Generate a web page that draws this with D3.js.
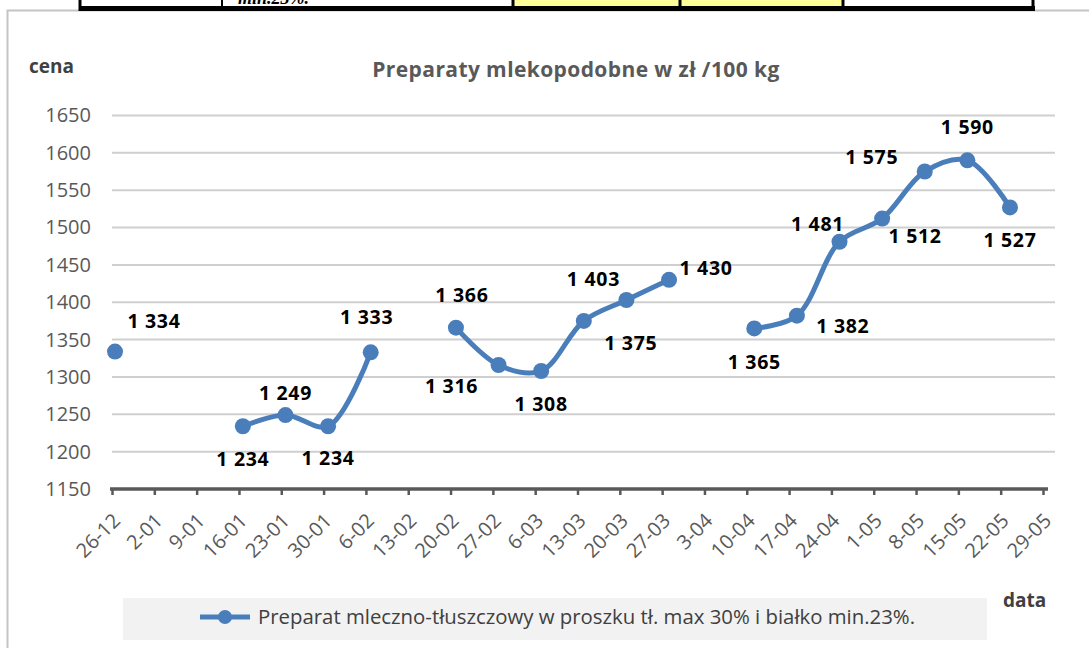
<!DOCTYPE html>
<html>
<head>
<meta charset="utf-8">
<script src="https://cdn.jsdelivr.net/npm/d3@7"></script>
<style>
  body { margin: 0; background: #fff; }
  svg { display: block; font-family: 'Open Sans', sans-serif; }
</style>
</head>
<body>
<svg id="chart"></svg>
<script>
// weekly dates on the x axis
const dates = ['26-12', '2-01', '9-01', '16-01', '23-01', '30-01', '6-02', '13-02', '20-02', '27-02',
    '6-03', '13-03', '20-03', '27-03', '3-04', '10-04', '17-04', '24-04', '1-05', '8-05', '15-05', '22-05', '29-05'];

// price zl / 100 kg, null = no quotation that week
const prices = [1334, null, null, 1234, 1249, 1234, 1333, null, 1366, 1316,
    1308, 1375, 1403, 1430, null, 1365, 1382, 1481, 1512, 1575, 1590, 1527, null];

const yTicks = [1150, 1200, 1250, 1300, 1350, 1400, 1450, 1500, 1550, 1600, 1650];

const seriesName = 'Preparat mleczno-tłuszczowy w proszku tł. max 30% i białko min.23%.';

draw_chart();

function draw_chart() {
    const W = 1089, H = 648;
    const blue = '#4a7ebb';
    const grey = '#595959';

    const svg = d3.select('#chart')
        .attr('width', W)
        .attr('height', H);

    /* chart frame */
    svg.append('path')
        .attr('d', 'M7.5,' + H + 'V10.5H' + W)
        .attr('fill', 'none')
        .attr('stroke', '#c4c4c4')
        .attr('stroke-width', 2);

    /* bit of the table above the chart */
    const table = svg.append('g');
    table.append('rect').attr('x', 514).attr('y', 0).attr('width', 165).attr('height', 7).attr('fill', '#ffff99');
    table.append('rect').attr('x', 681).attr('y', 0).attr('width', 161).attr('height', 7).attr('fill', '#ffff99');
    table.append('text')
        .attr('x', 238).attr('y', 4)
        .attr('font-family', 'Liberation Serif')
        .attr('font-weight', 'bold')
        .attr('font-style', 'italic')
        .attr('font-size', 18)
        .text('min.23%.');
    table.append('line')
        .attr('x1', 79).attr('x2', 1035).attr('y1', 8.5).attr('y2', 8.5)
        .attr('stroke', '#000').attr('stroke-width', 5);
    [80, 222, 513, 680, 843, 1033].forEach((x, i) => {
        table.append('line')
            .attr('x1', x).attr('x2', x).attr('y1', 0).attr('y2', 11)
            .attr('stroke', '#000').attr('stroke-width', i === 1 ? 2 : 3);
    });

    /* scales: axis ticks and markers are a few px apart, as in the original */
    const xTick = d3.scalePoint().domain(dates).range([112, 1043]);
    const xPt = d3.scalePoint().domain(dates).range([115, 1052.6]);
    const y = d3.scaleLinear().domain([1150, 1650]).range([489, 115.5]);

    /* gridlines */
    svg.append('g')
        .selectAll('line')
        .data(yTicks.slice(1))
        .enter().append('line')
        .attr('x1', 112).attr('x2', 1055)
        .attr('y1', d => y(d)).attr('y2', d => y(d))
        .attr('stroke', '#cfcfcf')
        .attr('stroke-width', 2);

    /* y axis labels */
    const yAxis = svg.append('g')
        .attr('transform', 'translate(91,0)')
        .call(d3.axisLeft(y).tickValues(yTicks).tickSize(0).tickPadding(0).tickFormat(d3.format('d')));
    yAxis.select('.domain').remove();
    yAxis.selectAll('text')
        .attr('fill', grey)
        .attr('font-size', 20)
        .attr('font-family', 'Open Sans');

    /* x axis */
    const xAxis = svg.append('g')
        .attr('transform', 'translate(0,' + y(1150) + ')')
        .call(d3.axisBottom(xTick).tickSize(6).tickSizeOuter(0));
    xAxis.select('.domain').remove();
    xAxis.append('line')
        .attr('x1', xTick.range()[0] - 2).attr('x2', xTick.range()[1] + 5)
        .attr('stroke', grey).attr('stroke-width', 3.5);
    xAxis.selectAll('.tick line').attr('stroke', grey).attr('stroke-width', 2.5);
    xAxis.selectAll('text')
        .attr('fill', grey)
        .attr('font-size', 20)
        .attr('font-family', 'Open Sans')
        .attr('x', 0).attr('y', 0).attr('dy', 0)
        .attr('transform', 'translate(9,33) rotate(-45)')
        .style('text-anchor', 'end');

    /* line with gaps */
    const pts = dates.map((d, i) => ({date: d, value: prices[i]}));
    const line = d3.line()
        .defined(d => d.value !== null)
        .x(d => xPt(d.date))
        .y(d => y(d.value))
        .curve(d3.curveCatmullRom.alpha(0.5));

    svg.append('path')
        .datum(pts)
        .attr('fill', 'none')
        .attr('stroke', blue)
        .attr('stroke-width', 5)
        .attr('stroke-linejoin', 'round')
        .attr('d', line);

    const valid = pts.filter(d => d.value !== null);

    svg.selectAll('.dot')
        .data(valid)
        .enter().append('circle')
        .attr('class', 'dot')
        .attr('cx', d => xPt(d.date))
        .attr('cy', d => y(d.value))
        .attr('r', 8)
        .attr('fill', blue);

    /* data labels, where Excel put them */
    const labelOffsets = [[39, -31], [0, 33], [0, -22], [0, 32], [-4, -35], [6, -33], [-47, 21], [0, 33],
        [47, 22], [-33, -21], [37, -12], [0, 34], [46, 10], [-22, -18], [33, 17], [-53, -15], [0, -33], [0, 33]];
    const fmt = d3.formatLocale({decimal: ',', thousands: ' ', grouping: [3], currency: ['', '']}).format(',');

    svg.selectAll('.lbl')
        .data(valid)
        .enter().append('text')
        .attr('class', 'lbl')
        .attr('x', (d, i) => xPt(d.date) + labelOffsets[i][0])
        .attr('y', (d, i) => y(d.value) + labelOffsets[i][1])
        .attr('dy', '0.36em')
        .attr('text-anchor', 'middle')
        .attr('font-size', 19.5)
        .attr('font-weight', 'bold')
        .attr('letter-spacing', 0.7)
        .attr('fill', '#000')
        .text(d => fmt(d.value));

    /* titles */
    svg.append('text')
        .attr('x', 576).attr('y', 77)
        .attr('text-anchor', 'middle')
        .attr('font-size', 21)
        .attr('font-weight', 'bold')
        .attr('letter-spacing', 0.4)
        .attr('fill', grey)
        .text('Preparaty mlekopodobne w zł /100 kg');

    svg.append('text')
        .attr('x', 29).attr('y', 73)
        .attr('font-size', 19)
        .attr('font-weight', 'bold')
        .attr('fill', '#404040')
        .text('cena');

    svg.append('text')
        .attr('x', 1003).attr('y', 607)
        .attr('font-size', 19)
        .attr('font-weight', 'bold')
        .attr('fill', '#404040')
        .text('data');

    /* legend */
    const legend = svg.append('g');
    legend.append('rect')
        .attr('x', 123).attr('y', 598)
        .attr('width', 864).attr('height', 42)
        .attr('fill', '#f2f2f2');
    legend.append('line')
        .attr('x1', 200).attr('x2', 250).attr('y1', 617).attr('y2', 617)
        .attr('stroke', blue).attr('stroke-width', 5);
    legend.append('circle')
        .attr('cx', 225).attr('cy', 617).attr('r', 7)
        .attr('fill', blue);
    legend.append('text')
        .attr('x', 258).attr('y', 624)
        .attr('font-size', 20)
        .attr('fill', '#404040')
        .attr('textLength', 657)
        .attr('lengthAdjust', 'spacingAndGlyphs')
        .text(seriesName);
}
</script>
</body>
</html>
